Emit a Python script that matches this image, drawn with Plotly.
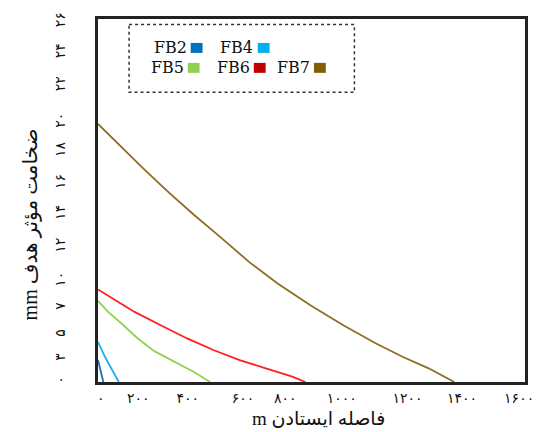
import plotly.graph_objects as go

# ---------------- data ----------------
series_names = ["FB2", "FB4", "FB5", "FB6", "FB7"]

fb2_x = [0, 11, 20]
fb2_y = [1.57, 0.79, 0.0]

fb4_x = [0, 26, 51, 78]
fb4_y = [2.88, 1.81, 0.93, 0.0]

fb5_x = [0, 38, 88, 149, 211, 297, 358, 420]
fb5_y = [5.81, 5.02, 4.19, 3.12, 2.21, 1.34, 0.74, 0.0]

fb6_x = [0, 63, 137, 235, 334, 432, 531, 629, 728, 777]
fb6_y = [6.62, 5.91, 5.02, 4.07, 3.12, 2.29, 1.57, 0.98, 0.38, 0.0]

fb7_x = [0, 81, 174, 266, 358, 451, 568, 673, 796, 919, 1042, 1141, 1239, 1335]
fb7_y = [18.48, 16.93, 15.21, 13.57, 12.0, 10.5, 8.57, 7.05, 5.5, 4.07, 2.76, 1.81, 0.98, 0.0]

# tick labels (Persian digits) and where they sit on the axes
x_tick_vals = [10, 151, 336, 543, 702, 913, 1160, 1364, 1578]
x_tick_text = ["۰", "۲۰۰", "۴۰۰", "۶۰۰", "۸۰۰", "۱۰۰۰", "۱۲۰۰", "۱۴۰۰", "۱۶۰۰"]

y_tick_vals = [0, 1.64, 3.36, 5.29, 7.21, 9.64, 12.0, 14.21, 16.5, 18.6, 21.21, 23.57, 25.79]
y_tick_text = ["۰", "۳", "۵", "۷", "۱۰", "۱۲", "۱۴", "۱۶", "۱۸", "۲۰", "۲۲", "۲۴", "۲۶"]

x_title = "m فاصله ایستادن"
y_title = "mm ضخامت مؤثر هدف"

# ---------------- styles ----------------
line_colors = ["#1F6FB8", "#22B0EE", "#92D050", "#FF1F1F", "#8C6D22"]
legend_colors = ["#0070C0", "#00B0F0", "#92D050", "#C00000", "#7F6000"]

W, H = 546, 432
L, R, T, B = 98, 15, 18, 50
pw, ph = W - L - R, H - T - B


def px(xp):
    return (xp - L) / pw


def py(yp):
    return (H - B - yp) / ph


fig = go.Figure()
xs = [fb2_x, fb4_x, fb5_x, fb6_x, fb7_x]
ys = [fb2_y, fb4_y, fb5_y, fb6_y, fb7_y]
for name, x, y, c in zip(series_names, xs, ys, line_colors):
    fig.add_trace(go.Scatter(x=x, y=y, mode="lines", name=name,
                             line=dict(color=c, width=1.8), showlegend=False))

# manual legend (text followed by a coloured square), dotted frame
shapes = [dict(type="rect", xref="paper", yref="paper",
               x0=px(129.5), x1=px(358), y0=py(23.5), y1=py(91.5),
               line=dict(color="#333333", width=1.5, dash="dot"),
               fillcolor="rgba(0,0,0,0)")]
annotations = []
legend_layout = [  # (text right edge px, square left px, row centre px)
    (190, 192, 47),
    (257, 260, 47),
    (187, 189, 67),
    (254, 256, 67),
    (315, 317, 67),
]
for name, col, (tx, sx, cy) in zip(series_names, legend_colors, legend_layout):
    annotations.append(dict(text=name, x=px(tx), y=py(cy), xref="paper", yref="paper",
                            xanchor="right", yanchor="middle", showarrow=False,
                            font=dict(family="DejaVu Serif", size=16, color="#111111")))
    shapes.append(dict(type="rect", xref="paper", yref="paper",
                       x0=px(sx), x1=px(sx + 12), y0=py(cy + 5), y1=py(cy - 5),
                       line=dict(width=0), fillcolor=col))

# axis titles
annotations.append(dict(text=x_title, x=px(322), y=py(419), xref="paper", yref="paper",
                        xanchor="center", yanchor="middle", showarrow=False,
                        font=dict(family="Liberation Serif, DejaVu Sans", size=19, color="#111111")))
annotations.append(dict(text=y_title, x=px(29), y=py(224), xref="paper", yref="paper",
                        xanchor="center", yanchor="middle", showarrow=False, textangle=-90,
                        font=dict(family="Liberation Serif, DejaVu Sans", size=20, color="#111111")))

fig.update_layout(
    width=W, height=H,
    margin=dict(l=L, r=R, t=T, b=B, pad=0),
    paper_bgcolor="white", plot_bgcolor="white",
    shapes=shapes, annotations=annotations,
    xaxis=dict(range=[0, 1600], showgrid=False, zeroline=False,
               showline=True, mirror=True, linecolor="#222222", linewidth=3,
               tickmode="array", tickvals=x_tick_vals, ticktext=x_tick_text,
               ticks="", ticklabelstandoff=1,
               tickfont=dict(family="DejaVu Sans", size=14, color="#111111")),
    yaxis=dict(range=[0, 26], showgrid=False, zeroline=False,
               showline=True, mirror=True, linecolor="#222222", linewidth=3,
               tickmode="array", tickvals=y_tick_vals, ticktext=y_tick_text,
               ticks="", tickangle=-90, ticklabelstandoff=24,
               tickfont=dict(family="DejaVu Sans", size=14, color="#111111")),
)

fig.write_html("out.html",
               config={"displayModeBar": False},
               post_script="document.body.style.margin='0';document.body.style.padding='0';")
